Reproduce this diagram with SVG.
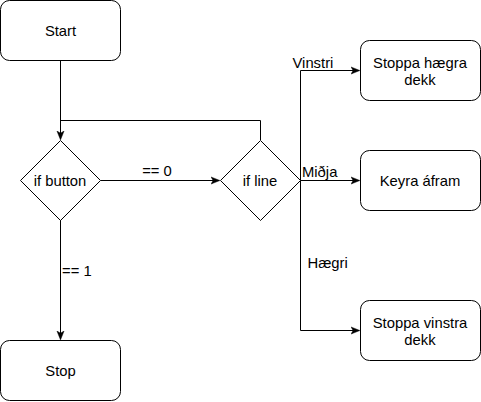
<svg xmlns="http://www.w3.org/2000/svg" width="481" height="402" viewBox="0 0 481 402">
<style>
.n{fill:#fff;stroke:#000;stroke-width:1}
.t{font-family:"Liberation Sans",Arial,sans-serif;font-size:14.8px;fill:#000}
.c{text-anchor:middle}
.e{fill:none;stroke:#000;stroke-width:1}
</style>
<defs>
<marker id="a" viewBox="0 0 10 10" refX="9" refY="5" markerWidth="9" markerHeight="9" markerUnits="userSpaceOnUse" orient="auto">
<path d="M0,1 L10,5 L0,9 L2.5,5 Z" fill="#000" stroke="#000" stroke-width="0.5"/>
</marker>
</defs>
<rect width="481" height="402" fill="#fff"/>
<g id="connectors">
<path class="e" d="M60.5,60.5 V139" marker-end="url(#a)"/>
<path class="e" d="M260.5,140 V120.5 H60.5"/>
<path class="e" d="M100.5,180.5 H219" marker-end="url(#a)"/>
<path class="e" d="M60.5,220 V339" marker-end="url(#a)"/>
<path class="e" d="M300.5,180.5 V70.5 H359" marker-end="url(#a)"/>
<path class="e" d="M300.5,180.5 H359" marker-end="url(#a)"/>
<path class="e" d="M300.5,180.5 V330.5 H359" marker-end="url(#a)"/>
<text class="t c" x="157" y="176">== 0</text>
<text class="t" x="62" y="276">== 1</text>
<text class="t" x="292.5" y="67.5">Vinstri</text>
<text class="t" x="302" y="177">Miðja</text>
<text class="t" x="307.5" y="267.5">Hægri</text>
</g>
<g id="start"><rect class="n" x="0.5" y="0.5" width="120" height="60" rx="9"/><text class="t c" x="60.5" y="36">Start</text></g>
<g id="ifbutton"><path class="n" d="M60.5,140.5 L100.5,180.5 L60.5,220.5 L20.5,180.5 Z"/><text class="t c" x="60" y="186">if button</text></g>
<g id="ifline"><path class="n" d="M260.5,140.5 L300.5,180.5 L260.5,220.5 L220.5,180.5 Z"/><text class="t c" x="260" y="186">if line</text></g>
<g id="stop"><rect class="n" x="0.5" y="340.5" width="120" height="60" rx="9"/><text class="t c" x="60.5" y="376">Stop</text></g>
<g id="hægra"><rect class="n" x="360.5" y="40.5" width="120" height="60" rx="9"/><text class="t c" x="420" y="67.5">Stoppa hægra</text><text class="t c" x="420" y="85">dekk</text></g>
<g id="keyra"><rect class="n" x="360.5" y="150.5" width="120" height="60" rx="9"/><text class="t c" x="420" y="186">Keyra áfram</text></g>
<g id="vinstra"><rect class="n" x="360.5" y="300.5" width="120" height="60" rx="9"/><text class="t c" x="420" y="327.5">Stoppa vinstra</text><text class="t c" x="420" y="345">dekk</text></g>
</svg>
